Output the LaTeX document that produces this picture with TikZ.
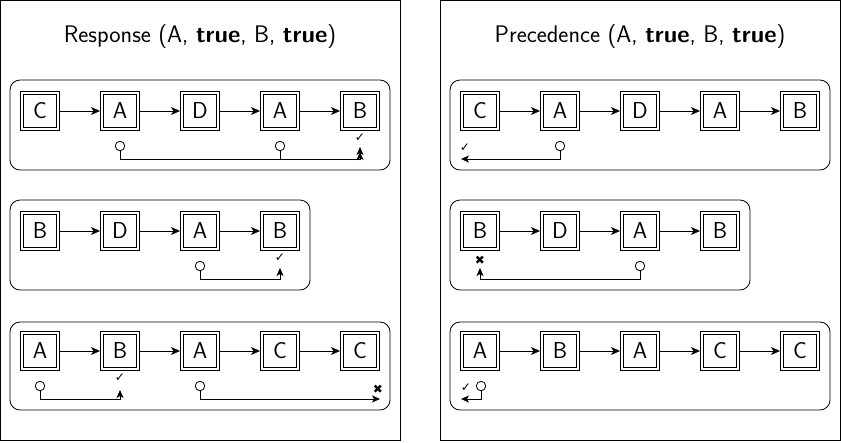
\documentclass[tikz,border=0pt]{standalone}
\usepackage{fontspec}
\newfontfamily\symfont{DejaVu Sans}
\usetikzlibrary{arrows.meta,positioning}

\begin{document}
\begin{tikzpicture}[x=1pt,y=-1pt,node distance=40pt,line width=0.8pt,font=\sffamily]
\tikzset{
  box/.style={draw,minimum size=39.2pt,inner sep=0pt,font=\sffamily\fontsize{23}{26}\selectfont,
    path picture={\draw ([shift={(3pt,3pt)}]path picture bounding box.south west)
      rectangle ([shift={(-3pt,-3pt)}]path picture bounding box.north east);}},
  flow/.style={-{Stealth[length=9pt,width=8pt,inset=2.5pt]}},
  row/.style={draw,rounded corners=10pt},
  panel/.style={draw},
  title/.style={font=\sffamily\fontsize{24}{27}\selectfont},
  src/.style={draw,circle,minimum size=9.5pt,inner sep=0pt},
  okmark/.style={font=\symfont\fontsize{12}{14}\selectfont,inner sep=0pt},
  nomark/.style={font=\symfont\fontsize{12}{14}\selectfont,inner sep=0pt},
  link/.style={-{Stealth[length=8pt,width=7pt,inset=2pt]}}
}
\useasboundingbox (0,0) rectangle (841,442);
\draw[panel] (0,0) rectangle (400,440);
\draw[panel] (440,0) rectangle (840,440);
\node[title] (resp) at (200,37) {Response (A, \textbf{true}, B, \textbf{true})};
\node[title] (prec) at (640,37) {Precedence (A, \textbf{true}, B, \textbf{true})};

% Response, trace 1
\draw[row] (10,80) rectangle (390,170);
\node[box] (r1a) at (40,111) {C};
\node[box,right=of r1a] (r1b) {A};
\node[box,right=of r1b] (r1c) {D};
\node[box,right=of r1c] (r1d) {A};
\node[box,right=of r1d] (r1e) {B};
\draw[flow] (r1a) -- (r1b);
\draw[flow] (r1b) -- (r1c);
\draw[flow] (r1c) -- (r1d);
\draw[flow] (r1d) -- (r1e);
\node[src] (r1o1) at (120,146) {};
\node[src] (r1o2) at (280,146) {};
\coordinate (r1t1) at (360,147);
\coordinate (r1t2) at (360,152);
\node[okmark] (r1ok) at (360,138) {✓};
\draw[link] (r1o1.south) -- ++(0,8.5) -| (r1t1);
\draw[link] (r1o2.south) -- ++(0,8.5) -| (r1t2);

% Response, trace 2
\draw[row] (10,200) rectangle (310,290);
\node[box] (r2a) at (40,231) {B};
\node[box,right=of r2a] (r2b) {D};
\node[box,right=of r2b] (r2c) {A};
\node[box,right=of r2c] (r2d) {B};
\draw[flow] (r2a) -- (r2b);
\draw[flow] (r2b) -- (r2c);
\draw[flow] (r2c) -- (r2d);
\node[src] (r2o1) at (200,266) {};
\coordinate (r2t1) at (280,268);
\node[okmark] (r2ok) at (280,258) {✓};
\draw[link] (r2o1.south) -- ++(0,8.5) -| (r2t1);

% Response, trace 3
\draw[row] (10,322) rectangle (390,410);
\node[box] (r3a) at (40,351) {A};
\node[box,right=of r3a] (r3b) {B};
\node[box,right=of r3b] (r3c) {A};
\node[box,right=of r3c] (r3d) {C};
\node[box,right=of r3d] (r3e) {C};
\draw[flow] (r3a) -- (r3b);
\draw[flow] (r3b) -- (r3c);
\draw[flow] (r3c) -- (r3d);
\draw[flow] (r3d) -- (r3e);
\node[src] (r3o1) at (40,386) {};
\node[src] (r3o2) at (200,386) {};
\coordinate (r3t1) at (120,390);
\coordinate (r3t2) at (380,399);
\node[okmark] (r3ok) at (120,378) {✓};
\node[nomark] (r3no) at (378,389) {✖};
\draw[link] (r3o1.south) -- ++(0,8.5) -| (r3t1);
\draw[link] (r3o2.south) |- (r3t2);

% Precedence, trace 1
\draw[row] (450,80) rectangle (830,170);
\node[box] (p1a) at (480,111) {C};
\node[box,right=of p1a] (p1b) {A};
\node[box,right=of p1b] (p1c) {D};
\node[box,right=of p1c] (p1d) {A};
\node[box,right=of p1d] (p1e) {B};
\draw[flow] (p1a) -- (p1b);
\draw[flow] (p1b) -- (p1c);
\draw[flow] (p1c) -- (p1d);
\draw[flow] (p1d) -- (p1e);
\node[src] (p1o1) at (560,146) {};
\coordinate (p1t1) at (461,159);
\node[okmark] (p1ok) at (465,148) {✓};
\draw[link] (p1o1.south) |- (p1t1);

% Precedence, trace 2
\draw[row] (450,200) rectangle (750,290);
\node[box] (p2a) at (480,231) {B};
\node[box,right=of p2a] (p2b) {D};
\node[box,right=of p2b] (p2c) {A};
\node[box,right=of p2c] (p2d) {B};
\draw[flow] (p2a) -- (p2b);
\draw[flow] (p2b) -- (p2c);
\draw[flow] (p2c) -- (p2d);
\node[src] (p2o1) at (640,266) {};
\coordinate (p2t1) at (480,268);
\node[nomark] (p2no) at (480,260) {✖};
\draw[link] (p2o1.south) -- ++(0,8.5) -| (p2t1);

% Precedence, trace 3
\draw[row] (450,322) rectangle (830,410);
\node[box] (p3a) at (480,351) {A};
\node[box,right=of p3a] (p3b) {B};
\node[box,right=of p3b] (p3c) {A};
\node[box,right=of p3c] (p3d) {C};
\node[box,right=of p3d] (p3e) {C};
\draw[flow] (p3a) -- (p3b);
\draw[flow] (p3b) -- (p3c);
\draw[flow] (p3c) -- (p3d);
\draw[flow] (p3d) -- (p3e);
\node[src] (p3o1) at (481,386) {};
\coordinate (p3t1) at (461,399);
\node[okmark] (p3ok) at (466,388) {✓};
\draw[link] (p3o1.south) |- (p3t1);
\end{tikzpicture}
\end{document}
